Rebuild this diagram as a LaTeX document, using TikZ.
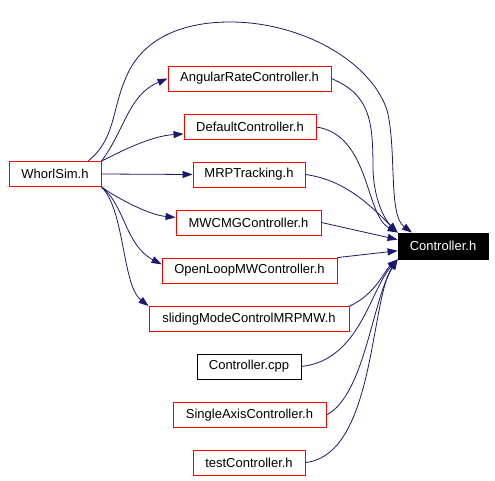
\documentclass[tikz,border=0pt]{standalone}
\usepackage{fontspec}
\setmainfont{Liberation Sans}
\usetikzlibrary{arrows.meta}
\definecolor{edgeblue}{HTML}{191970}
\tikzset{
  hdr/.style={draw=red, line width=0.9pt, minimum height=25, inner sep=0pt, font=\fontsize{13}{15}\selectfont},
  plainhdr/.style={hdr, draw=black},
  root/.style={hdr, draw=black, fill=black, text=white},
  dep/.style={draw=edgeblue, line width=0.8pt, -{Triangle[length=10pt,width=7pt]}},
}
\begin{document}
\begin{tikzpicture}[x=1pt, y=-1pt]
\useasboundingbox (0,0) rectangle (495,481);
\node[hdr, minimum width=92] (whorl) at (55,174) {WhorlSim.h};
\node[hdr, minimum width=163] (angular) at (249.5,78.5) {AngularRateController.h};
\node[hdr, minimum width=132] (default) at (250,127) {DefaultController.h};
\node[hdr, minimum width=112] (mrp) at (249,174.5) {MRPTracking.h};
\node[hdr, minimum width=145] (mwcmg) at (248.5,222.5) {MWCMGController.h};
\node[hdr, minimum width=175] (openloop) at (249.5,270.5) {OpenLoopMWController.h};
\node[hdr, minimum width=200] (sliding) at (249,319) {slidingModeControlMRPMW.h};
\node[plainhdr, minimum width=104] (cpp) at (249,366.5) {Controller.cpp};
\node[hdr, minimum width=153] (single) at (249.5,415) {SingleAxisController.h};
\node[hdr, minimum width=112] (test) at (249,462.5) {testController.h};
\node[root, minimum width=90, minimum height=26] (ctrl) at (443,246) {Controller.h};
% WhorlSim.h includes
\draw[dep] ([xshift=33]whorl.north) .. controls (115,140) and (112,110) .. (125,80)
  .. controls (140,40) and (180,22) .. (230,22)
  .. controls (300,22) and (370,60) .. (387,110)
  .. controls (397,150) and (388,215) .. ([xshift=-31]ctrl.north);
\draw[dep] (whorl.north east) .. controls (125,130) and (128,95) .. (angular.west);
\draw[dep] (whorl.north east) .. controls (120,152) and (150,136) .. (default.186);
\draw[dep] (whorl.east) -- (mrp.west);
\draw[dep] (whorl.south east) .. controls (120,200) and (150,215) .. (mwcmg.176);
\draw[dep] (whorl.south east) .. controls (125,205) and (125,245) .. (openloop.176);
\draw[dep] (whorl.south east) .. controls (125,210) and (122,285) .. (sliding.north west);
% into Controller.h
\draw[dep] (angular.east) .. controls (370,95) and (373,120) .. (373,170)
  .. controls (374,200) and (385,220) .. (ctrl.north west);
\draw[dep] (default.east) .. controls (370,135) and (365,215) .. (ctrl.north west);
\draw[dep] (mrp.east) .. controls (345,180) and (370,205) .. (ctrl.north west);
\draw[dep] (mwcmg.east) -- (ctrl.172);
\draw[dep] (openloop.north east) -- (ctrl.186);
\draw[dep] (sliding.north east) .. controls (375,295) and (385,270) .. (ctrl.south west);
\draw[dep] (cpp.east) .. controls (360,360) and (370,290) .. (ctrl.south west);
\draw[dep] (single.east) .. controls (365,395) and (372,300) .. (ctrl.south west);
\draw[dep] (test.east) .. controls (375,455) and (370,300) .. (ctrl.south west);
\end{tikzpicture}
\end{document}
